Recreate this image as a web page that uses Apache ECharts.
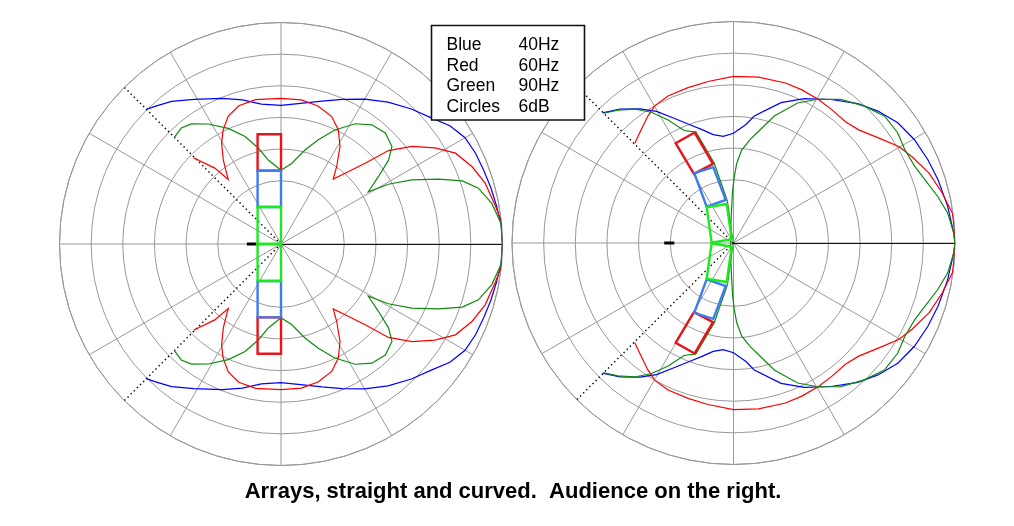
<!DOCTYPE html>
<html><head><meta charset="utf-8">
<script src="https://cdn.jsdelivr.net/npm/echarts@6/dist/echarts.min.js"></script>
<style>html,body{margin:0;padding:0;background:#fff}#c{width:1014px;height:526px}</style>
</head><body><div id="c"></div>
<script>
// ---------- data (angle in degrees, level in dB; outer ring = 0 dB, 6 dB per ring) ----------
const RING_DB = 6;
const FLOOR_DB = -42;
const radiusTicks = [-42, -36, -30, -24, -18, -12, -6, 0];
const legendNames = ['Blue', 'Red', 'Green', 'Circles'];
const legendValues = ['40Hz', '60Hz', '90Hz', '6dB'];
const titleText = 'Arrays, straight and curved.  Audience on the right.';

// Left plot (straight array), upper half 0..135 deg
const straightBlue = [[0,0],[5,-0.1],[10,-0.5],[15,-0.8],[20,-1.1],[25,-1.3],[30,-1.7],[35,-2.9],[40,-4.8],[46,-6.4],[53,-8.3],[60,-10.3],[67,-12.2],[74,-13.8],[83,-15.2],[90,-15.7],[98,-15.2],[105,-13.7],[112,-12.2],[121,-10.0],[127.5,-7.9],[132.5,-6.6],[135,-5.9]];
const straightRed = [[0,0],[6,0],[10,-0.7],[16.6,-1.6],[22,-2.9],[27.5,-4.7],[32,-7.6],[36.7,-11.0],[41,-15.0],[43.8,-19.9],[47.8,-23.9],[51.2,-26.2],[54.3,-23.9],[58.8,-20.4],[63.3,-17.8],[68.3,-16.0],[75,-14.9],[82,-14.4],[90,-14.4],[100,-14.2],[107,-14.6],[112.5,-15.8],[117,-17.8],[120.5,-19.8],[124.5,-22.7],[127.6,-25.1],[129.2,-26.2],[131.1,-22.9],[135.4,-18.7]];
const straightGreen = [[0,0],[5.4,-0.1],[10.9,-1.3],[15.8,-3.1],[19.2,-5.6],[22.4,-9.7],[26.1,-14.4],[29.1,-18.7],[30.9,-22.7],[34.7,-19.5],[38,-16.1],[41.3,-14.0],[46.8,-13.1],[52.7,-13.6],[58.3,-15.2],[64.7,-18.1],[70.3,-21.0],[75.7,-23.6],[82.5,-26.6],[90,-28.0],[98.6,-25.9],[103.3,-23.3],[108.5,-20.5],[114.5,-17.9],[121.2,-15.4],[126.7,-13.6],[130.7,-13.0],[135,-13.4]];

// Right plot (curved array), upper half
const curvedBlue = [[0,0],[2.6,-0.2],[9.7,-0.8],[17.2,-1.4],[23.2,-1.9],[29.8,-2.5],[36.2,-3.4],[42.4,-4.9],[48.3,-6.6],[55.8,-9.1],[63.9,-11.5],[71.3,-13.9],[80.7,-17.6],[84,-19.4],[90,-21.2],[95.5,-21.7],[100.6,-21.1],[105.5,-19.7],[110.2,-18.1],[115.7,-15.7],[120.3,-13.1],[124.9,-11.0],[130.3,-8.7],[135.2,-7.0]];
const curvedRed = [[0,0],[2.5,0],[7.7,-0.1],[13.4,-1.3],[19.6,-2.6],[25.8,-4.4],[30.3,-5.7],[35.8,-8.0],[42.1,-10.0],[47.3,-10.7],[53.5,-10.6],[59.2,-10.4],[65.9,-10.2],[72,-10.1],[81.4,-10.2],[90,-10.4],[99,-11.0],[106.3,-11.3],[114,-11.5],[119.9,-12.0],[124.1,-13.0],[129.2,-14.3],[134.8,-15.4]];
const curvedGreenFront = [[0,0],[2.6,-0.2],[8,-1.0],[12.9,-2.3],[18.4,-3.8],[23,-4.7],[28.7,-5.0],[33.9,-4.5],[40.1,-4.6],[46.3,-6.1],[53.2,-8.0],[59.6,-10.4],[65.4,-12.8],[72.2,-16.7],[77.5,-20.4],[81,-22.2],[85,-24.3],[87.7,-26.9],[89.3,-29.4],[90.9,-31.9],[92.8,-35.1],[99.7,-38.9],[110,-40.4],[135,-41.2],[180,-41.5]];
const curvedGreenBack = [[104.0,-41.3],[98.3,-34.5],[98.7,-33.7],[103.6,-26.4],[108.7,-19.8],[113.7,-18.7],[118.0,-15.6],[122.2,-12.7],[126.5,-10.4],[131,-8.6],[135,-7.2]];

// Cabinet outlines, upper half, [x, y] in rings (1 ring = 6 dB) from the polar centre
const straightBoxRed = [[-0.74,2.32],[0,2.32],[0,3.47],[-0.74,3.47]];
const straightBoxBlue = [[-0.74,1.17],[0,1.17],[0,2.32],[-0.74,2.32]];
const straightBoxGreen = [[-0.74,0],[0,0],[0,1.17],[-0.74,1.17]];
const curvedBoxGreen = [[-0.690,0.009],[-0.057,0.117],[-0.215,1.234],[-0.848,1.130]];
const curvedBoxBlue = [[-0.848,1.149],[-0.247,1.361],[-0.639,2.396],[-1.240,2.206]];
const curvedBoxRed = [[-1.25,2.184],[-0.649,2.5],[-1.228,3.491],[-1.829,3.155]];

// Short marker left of centre: [from, to] in rings along 180 deg
const straightMarker = [0.77, 1.08];
const curvedMarker = [1.87, 2.19];
const guideAngles = [135, 225];

// ---------- helpers ----------
function mirrorCurve(upper) {
  const top = upper.slice().reverse();
  const bottom = upper.filter(p => p[0] > 0 && p[0] < 180).map(p => [360 - p[0], p[1]]);
  const tail = upper[upper.length - 1][0] >= 180 ? [[180, upper[upper.length - 1][1]]] : [];
  return top.concat(bottom).concat(tail).map(p => [p[1], p[0]]);
}
function mirrorBranch(upper) {
  const top = upper.slice();
  const lowerRev = upper.slice().reverse().map(p => [360 - p[0], p[1]]);
  return { top: top.map(p => [p[1], p[0]]), bottom: lowerRev.map(p => [p[1], p[0]]) };
}
function ringsToPolar(pt) {
  const r = Math.hypot(pt[0], pt[1]);
  let a = r === 0 ? 0 : Math.atan2(pt[1], pt[0]) * 180 / Math.PI;
  if (a < 0) a += 360;
  return [FLOOR_DB + r * RING_DB, a];
}
function boxSeries(pts, polarIndex, color, flip) {
  const p = pts.map(q => flip ? [q[0], -q[1]] : q);
  const closed = p.concat([p[0], p[1]]);
  return lineSeries(closed.map(ringsToPolar), polarIndex, color, 2.4, 20);
}
function lineSeries(data, polarIndex, color, width, z, type) {
  return {
    type: 'line', coordinateSystem: 'polar', polarIndex: polarIndex, data: data,
    symbol: 'none', showSymbol: false, silent: true, animation: false, z: z || 5,
    lineStyle: { color: color, width: width, type: type || 'solid', cap: 'butt', join: 'miter' }
  };
}

const GRID = '#999999';
const C_BLUE = '#0000ff', C_RED = '#ff0000', C_GREEN = '#0f8a0f';
const B_RED = '#e8141c', B_BLUE = '#3d7bf0', B_GREEN = '#1ee81e';

function polarAxes(idx) {
  return {
    angle: {
      polarIndex: idx, type: 'value', min: 0, max: 360, interval: 30, startAngle: 0, clockwise: false,
      axisLine: { show: true, lineStyle: { color: GRID, width: 1 } },
      axisTick: { show: false }, axisLabel: { show: false },
      splitLine: { show: true, lineStyle: { color: GRID, width: 1 } }
    },
    radius: {
      polarIndex: idx, type: 'value', min: radiusTicks[0], max: radiusTicks[radiusTicks.length - 1], interval: RING_DB,
      axisLine: { show: true, lineStyle: { color: '#111', width: 1 } },
      axisTick: { show: false }, axisLabel: { show: false },
      splitLine: { show: true, lineStyle: { color: radiusTicks.map((t, i) => i === 1 ? 'rgba(0,0,0,0)' : GRID), width: 1 } }
    }
  };
}
const a0 = polarAxes(0), a1 = polarAxes(1);

const series = [];
// guides
[0, 1].forEach(pi => {
  guideAngles.forEach(g => series.push(lineSeries([[FLOOR_DB, g], [0, g]], pi, '#000', 1.4, 3, [1.4, 3])));
});
series.push(lineSeries(straightMarker.map(r => [FLOOR_DB + r * RING_DB, 180]), 0, '#000', 3, 4));
series.push(lineSeries(curvedMarker.map(r => [FLOOR_DB + r * RING_DB, 180]), 1, '#000', 3, 4));
// curves
series.push(lineSeries(mirrorCurve(straightBlue), 0, C_BLUE, 1.2, 6));
series.push(lineSeries(mirrorCurve(straightRed), 0, C_RED, 1.2, 6));
series.push(lineSeries(mirrorCurve(straightGreen), 0, C_GREEN, 1.2, 6));
series.push(lineSeries(mirrorCurve(curvedBlue), 1, C_BLUE, 1.2, 6));
series.push(lineSeries(mirrorCurve(curvedRed), 1, C_RED, 1.2, 6));
series.push(lineSeries(mirrorCurve(curvedGreenFront), 1, C_GREEN, 1.2, 6));
const gb = mirrorBranch(curvedGreenBack);
series.push(lineSeries(gb.top, 1, C_GREEN, 1.2, 6));
series.push(lineSeries(gb.bottom, 1, C_GREEN, 1.2, 6));
// boxes
[false, true].forEach(f => {
  series.push(boxSeries(straightBoxRed, 0, B_RED, f));
  series.push(boxSeries(straightBoxBlue, 0, B_BLUE, f));
  series.push(boxSeries(straightBoxGreen, 0, B_GREEN, f));
  series.push(boxSeries(curvedBoxRed, 1, B_RED, f));
  series.push(boxSeries(curvedBoxBlue, 1, B_BLUE, f));
  series.push(boxSeries(curvedBoxGreen, 1, B_GREEN, f));
});

const FONT = '"Liberation Sans", Arial, sans-serif';
const graphics = [{
  type: 'rect', z: 100, shape: { x: 431.5, y: 25.5, width: 153, height: 94.5 },
  style: { fill: '#fff', stroke: '#111', lineWidth: 1.6 }
}];
legendNames.forEach((n, i) => {
  graphics.push({ type: 'text', z: 101, style: { text: n, x: 446.5, y: 45 + i * 20.8, fill: '#000', font: '17.5px ' + FONT, verticalAlign: 'middle', align: 'left' } });
  graphics.push({ type: 'text', z: 101, style: { text: legendValues[i], x: 518.5, y: 45 + i * 20.8, fill: '#000', font: '17.5px ' + FONT, verticalAlign: 'middle', align: 'left' } });
});
graphics.push({ type: 'text', z: 101, style: { text: titleText, x: 513, y: 492, fill: '#000', font: 'bold 22px ' + FONT, verticalAlign: 'middle', align: 'center' } });

const chart = echarts.init(document.getElementById('c'), null, { renderer: 'canvas' });
chart.setOption({
  animation: false,
  backgroundColor: '#fff',
  polar: [{ center: [281, 244], radius: 221.5 }, { center: [733.5, 243], radius: 221.5 }],
  angleAxis: [a0.angle, a1.angle],
  radiusAxis: [a0.radius, a1.radius],
  series: series,
  graphic: graphics
});
</script>
</body></html>
